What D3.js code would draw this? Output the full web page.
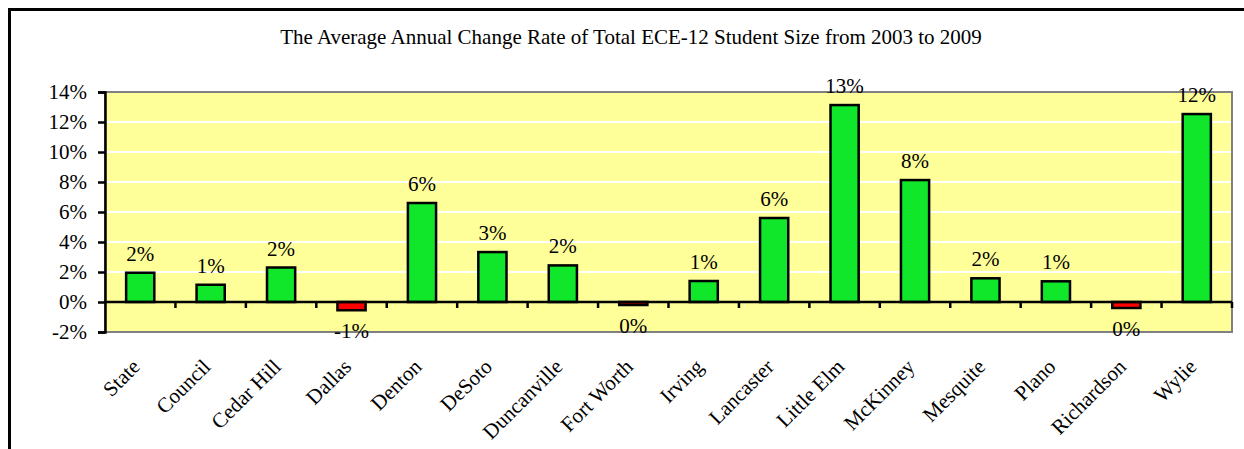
<!DOCTYPE html>
<html>
<head>
<meta charset="utf-8">
<script src="https://cdn.jsdelivr.net/npm/d3@7"></script>
<style>
  html, body { margin: 0; padding: 0; background: #fff; }
  svg { display: block; }
  svg text { font-family: "Liberation Serif", "DejaVu Serif", serif; }
</style>
</head>
<body>
<svg id="chart" width="1244" height="449"></svg>
<script>
const title = "The Average Annual Change Rate of Total ECE-12 Student Size from 2003 to 2009";
const categories = ["State", "Council", "Cedar Hill", "Dallas", "Denton", "DeSoto", "Duncanville",
  "Fort Worth", "Irving", "Lancaster", "Little Elm", "McKinney", "Mesquite", "Plano", "Richardson", "Wylie"];
const values = [1.95, 1.15, 2.3, -0.55, 6.6, 3.33, 2.44, -0.2, 1.4, 5.6, 13.13, 8.13, 1.58, 1.38, -0.4, 12.53];
const valueLabels = ["2%", "1%", "2%", "-1%", "6%", "3%", "2%", "0%", "1%", "6%", "13%", "8%", "2%", "1%", "0%", "12%"];
const yTicks = [-2, 0, 2, 4, 6, 8, 10, 12, 14];

const FONT = "Liberation Serif, DejaVu Serif, serif";
const FS = 21;
const svg = d3.select("#chart");
const plot = { left: 105, right: 1232, top: 92, bottom: 332 };

// outer frame
svg.append("rect").attr("x", 9.5).attr("y", 9.5).attr("width", 1260).attr("height", 500)
  .attr("fill", "#fff").attr("stroke", "#000").attr("stroke-width", 3);

svg.append("text").attr("x", 631).attr("y", 44).attr("text-anchor", "middle")
  .attr("font-family", FONT).attr("font-size", FS).attr("fill", "#000").text(title);

const x = d3.scaleBand().domain(categories).range([plot.left, plot.right]).paddingInner(0).paddingOuter(0);
const y = d3.scaleLinear().domain([-2, 14]).range([plot.bottom, plot.top]);

// plot background
svg.append("rect").attr("x", plot.left).attr("y", plot.top)
  .attr("width", plot.right - plot.left).attr("height", plot.bottom - plot.top)
  .attr("fill", "#FFFF99").attr("stroke", "#808080").attr("stroke-width", 2);

// gridlines
svg.append("g").selectAll("line").data(yTicks.filter(t => t > 0 && t < 14)).join("line")
  .attr("x1", plot.left).attr("x2", plot.right - 1)
  .attr("y1", d => y(d)).attr("y2", d => y(d))
  .attr("stroke", "#fff").attr("stroke-width", 2);

// y axis
const yAxis = d3.axisLeft(y).tickValues(yTicks).tickFormat(d => d + "%").tickSize(7).tickPadding(11);
const gy = svg.append("g").attr("transform", `translate(${plot.left},0)`).call(yAxis)
  .attr("font-family", FONT).attr("font-size", FS);
gy.select(".domain").attr("stroke", "#000").attr("stroke-width", 2.5);
gy.selectAll(".tick line").attr("stroke", "#000").attr("stroke-width", 2.5);
gy.selectAll(".tick text").attr("fill", "#000").attr("font-family", FONT);

// bars
const bw = x.bandwidth() * 0.4;
svg.append("g").selectAll("rect").data(values).join("rect")
  .attr("x", (d, i) => x(categories[i]) + (x.bandwidth() - bw) / 2)
  .attr("y", d => y(Math.max(0, d)))
  .attr("width", bw)
  .attr("height", d => Math.abs(y(d) - y(0)))
  .attr("fill", d => d >= 0 ? "#10E62A" : "#FF0000")
  .attr("stroke", "#000").attr("stroke-width", 2.5);

// zero line with category ticks
svg.append("line").attr("x1", plot.left).attr("x2", plot.right)
  .attr("y1", y(0)).attr("y2", y(0)).attr("stroke", "#000").attr("stroke-width", 2.5);
svg.append("g").selectAll("line").data(categories).join("line")
  .attr("x1", (d, i) => plot.left + x.bandwidth() * (i + 1))
  .attr("x2", (d, i) => plot.left + x.bandwidth() * (i + 1))
  .attr("y1", y(0)).attr("y2", y(0) + 6)
  .attr("stroke", "#000").attr("stroke-width", 2.5);

// value labels
svg.append("g").selectAll("text").data(values).join("text")
  .attr("x", (d, i) => x(categories[i]) + x.bandwidth() / 2)
  .attr("y", d => d >= 0 ? y(d) - 19 : y(d) + 21)
  .attr("text-anchor", "middle").attr("dominant-baseline", "central")
  .attr("font-family", FONT).attr("font-size", FS).attr("fill", "#000")
  .text((d, i) => valueLabels[i]);

// category labels
svg.append("g").selectAll("text").data(categories).join("text")
  .attr("transform", d => `translate(${x(d) + x.bandwidth() / 2 + 1},${368}) rotate(-45)`)
  .attr("text-anchor", "end")
  .attr("font-family", FONT).attr("font-size", FS).attr("fill", "#000")
  .text(d => d);
</script>
</body>
</html>
